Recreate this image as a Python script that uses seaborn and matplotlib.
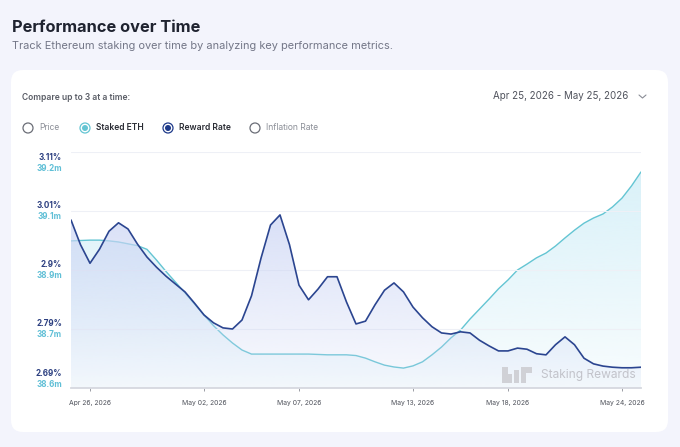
import numpy as np
import pandas as pd
import matplotlib
matplotlib.use('Agg')
import matplotlib.pyplot as plt
import matplotlib.dates as mdates
from matplotlib.patches import FancyBboxPatch, Circle, Polygon
from matplotlib.transforms import Affine2D
import seaborn as sns

# ================================================ DATA ===============================================================

TIMESTAMPS = pd.date_range('2026-04-25', '2026-05-25', freq='12h')

REWARD_RATE = [
    2.989, 2.945, 2.912, 2.937, 2.969, 2.984, 2.973, 2.946, 2.923, 2.905,
    2.889, 2.875, 2.861, 2.841, 2.820, 2.806, 2.797, 2.795, 2.811, 2.854,
    2.921, 2.980, 2.998, 2.945, 2.873, 2.847, 2.866, 2.888, 2.888, 2.843,
    2.804, 2.809, 2.838, 2.864, 2.877, 2.861, 2.834, 2.815, 2.799, 2.788,
    2.786, 2.790, 2.788, 2.775, 2.765, 2.756, 2.756, 2.761, 2.759, 2.751,
    2.749, 2.767, 2.781, 2.767, 2.743, 2.733, 2.729, 2.727, 2.726, 2.726,
    2.727,
]

STAKED_ETH = [
    38.979, 38.980, 38.981, 38.981, 38.979, 38.976, 38.971, 38.966, 38.956, 38.927,
    38.896, 38.867, 38.838, 38.808, 38.778, 38.749, 38.724, 38.702, 38.683, 38.672,
    38.672, 38.672, 38.672, 38.672, 38.672, 38.672, 38.671, 38.670, 38.670, 38.670,
    38.668, 38.661, 38.651, 38.642, 38.637, 38.634, 38.640, 38.651, 38.670, 38.691,
    38.716, 38.737, 38.767, 38.794, 38.821, 38.849, 38.873, 38.900, 38.916, 38.933,
    38.946, 38.965, 38.987, 39.008, 39.027, 39.041, 39.052, 39.071, 39.095, 39.128,
    39.166,
]

REWARD_TICKS = [2.69, 2.795, 2.90, 3.005, 3.11]
REWARD_LABELS = ['2.69%', '2.79%', '2.9%', '3.01%', '3.11%']
STAKED_TICKS = [38.58, 38.74, 38.90, 39.06, 39.22]
STAKED_LABELS = ['38.6m', '38.7m', '38.9m', '39.1m', '39.2m']
X_TICKS = ['2026-04-26', '2026-05-02', '2026-05-07', '2026-05-13', '2026-05-18', '2026-05-24']

METRICS = ['Price', 'Staked ETH', 'Reward Rate', 'Inflation Rate']
METRIC_ON = [False, True, True, False]

# ================================================ STYLE ==============================================================

W, H = 680, 447
BG = '#f3f4fc'
NAVY = '#2b4590'
TEAL = '#64c5d3'
REWARD_FILL = '#cdd6f5'
STAKED_FILL = '#d3eff8'

sns.set_theme(style='white')
plt.rcParams['font.family'] = ['Inter', 'DejaVu Sans']


def gradient_fill(ax, x, y, color, floor, a_top, a_bottom):
    """Fill under a line with a vertical fade, clipped to the area below the curve."""
    xn = mdates.date2num(x)
    poly = ax.fill_between(xn, y, floor, facecolor='none', edgecolor='none')
    rgb = matplotlib.colors.to_rgb(color)
    grad = np.zeros((256, 1, 4))
    grad[:, :, :3] = rgb
    grad[:, 0, 3] = np.linspace(a_bottom, a_top, 256)
    im = ax.imshow(grad, aspect='auto', origin='lower', interpolation='bicubic',
                   extent=[xn.min(), xn.max(), floor, max(y)], zorder=1)
    im.set_clip_path(poly.get_paths()[0], transform=ax.transData)


# ================================================ FIGURE =============================================================

fig = plt.figure(figsize=(W / 100, H / 100), dpi=100)
fig.patch.set_facecolor(BG)
PX = Affine2D().scale(1 / W, -1 / H).translate(0, 1) + fig.transFigure

card = FancyBboxPatch((11, 70), 657, 362, boxstyle='round,pad=0,rounding_size=12',
                      transform=PX, facecolor='white', edgecolor='none', zorder=0)
fig.add_artist(card)

fig.text(12, 27, 'Performance over Time', transform=PX, fontsize=11.8, fontweight='bold',
         color='#1f2330', va='center', ha='left')
fig.text(12, 46, 'Track Ethereum staking over time by analyzing key performance metrics.',
         transform=PX, fontsize=7.9, color='#737687', va='center', ha='left')

fig.text(22, 97, 'Compare up to 3 at a time:', transform=PX, fontsize=6.1, fontweight='semibold',
         color='#5a5d66', va='center', ha='left')
fig.text(628, 96, 'Apr 25, 2026 - May 25, 2026', transform=PX, fontsize=7, color='#4f525c',
         va='center', ha='right')
fig.add_artist(plt.Line2D([639, 642.5, 646], [95, 98, 95], transform=PX, color='#8a8d96', lw=0.8))

# metric selector
radio_x = [28, 85, 168, 255]
radio_col = ['#6b6e77', TEAL, '#1e3a8a', '#6b6e77']
for label, on, cx, col in zip(METRICS, METRIC_ON, radio_x, radio_col):
    fig.add_artist(Circle((cx, 128), 5, transform=PX, facecolor='white', edgecolor=col, lw=0.9))
    if on:
        fig.add_artist(Circle((cx, 128), 3, transform=PX, facecolor=col, edgecolor='none'))
    fig.text(cx + 11, 128, label, transform=PX, fontsize=6.1,
             fontweight='semibold' if on else 'normal',
             color='#2a2c34' if on else '#8b8e97', va='center', ha='left')

# ================================================ CHART ==============================================================

ax = fig.add_axes([71 / W, 1 - 388 / H, 570 / W, 236 / H])
ax2 = ax.twinx()
ax.set_zorder(2)
ax2.set_zorder(1)
ax.patch.set_visible(False)
ax2.patch.set_visible(False)

gradient_fill(ax2, TIMESTAMPS, STAKED_ETH, STAKED_FILL, STAKED_TICKS[0], 0.85, 0.15)
sns.lineplot(x=TIMESTAMPS, y=STAKED_ETH, ax=ax2, color=TEAL, lw=1.0, zorder=3,
             solid_joinstyle='round')

gradient_fill(ax, TIMESTAMPS, REWARD_RATE, REWARD_FILL, REWARD_TICKS[0], 0.75, 0.12)
sns.lineplot(x=TIMESTAMPS, y=REWARD_RATE, ax=ax, color=NAVY, lw=1.2, zorder=4,
             solid_joinstyle='round')

xmin, xmax = pd.Timestamp('2026-04-25'), pd.Timestamp('2026-05-25')
ax.set_xlim(xmin, xmax)
ax.set_ylim(REWARD_TICKS[0], REWARD_TICKS[-1])
ax2.set_ylim(STAKED_TICKS[0], STAKED_TICKS[-1])

ax.set_yticks(REWARD_TICKS)
ax.set_yticklabels([])
ax.tick_params(axis='y', length=0)
ax2.set_yticks([])
ax.yaxis.grid(True, color='#eef0f6', lw=0.8)
ax.xaxis.grid(False)
ax.set_xlabel('')
ax.set_ylabel('')
ax2.set_ylabel('')

for a in (ax, ax2):
    for side in ('top', 'right', 'left'):
        a.spines[side].set_visible(False)
ax2.spines['bottom'].set_visible(False)
ax.spines['bottom'].set_color('#d6d8df')
ax.spines['bottom'].set_linewidth(1.3)

ax.set_xticks(pd.to_datetime(X_TICKS))
ax.xaxis.set_major_formatter(mdates.DateFormatter('%b %d, %Y'))
ax.tick_params(axis='x', length=2.5, width=0.7, color='#9a9ca4', labelsize=4.9,
               labelcolor='#50535c', pad=6, bottom=True)

# stacked axis labels, percent above and staked amount below
n = len(REWARD_TICKS)
for i in range(n):
    if i == n - 1:
        dp, dm = -5, -16
    elif i == 0:
        dp, dm = 15, 4
    else:
        dp, dm = 5.5, -5.5
    ax.annotate(REWARD_LABELS[i], xy=(0, REWARD_TICKS[i]), xycoords=ax.get_yaxis_transform(),
                xytext=(-9, dp), textcoords='offset pixels', ha='right', va='center',
                fontsize=5.8, fontweight='bold', color='#2c3f80', annotation_clip=False)
    ax2.annotate(STAKED_LABELS[i], xy=(0, STAKED_TICKS[i]), xycoords=ax2.get_yaxis_transform(),
                 xytext=(-9, dm), textcoords='offset pixels', ha='right', va='center',
                 fontsize=5.8, fontweight='bold', color='#5fbfd6', annotation_clip=False)

# watermark
logo = [
    [(502, 367), (508, 367), (508, 374), (512, 374), (512, 383), (502, 383)],
    [(514, 370), (519, 370), (519, 383), (514, 383)],
    [(521, 367), (532, 367), (532, 373), (526, 373), (526, 383), (521, 383)],
]
for pts in logo:
    fig.add_artist(Polygon(pts, closed=True, transform=PX, facecolor='#d0d1d6',
                           edgecolor='none', zorder=5))
fig.text(541, 375, 'Staking Rewards', transform=PX, fontsize=8.6, color='#c2c3ca',
         va='center', ha='left', zorder=5)

fig.savefig('out.png', dpi=100, facecolor=BG)
